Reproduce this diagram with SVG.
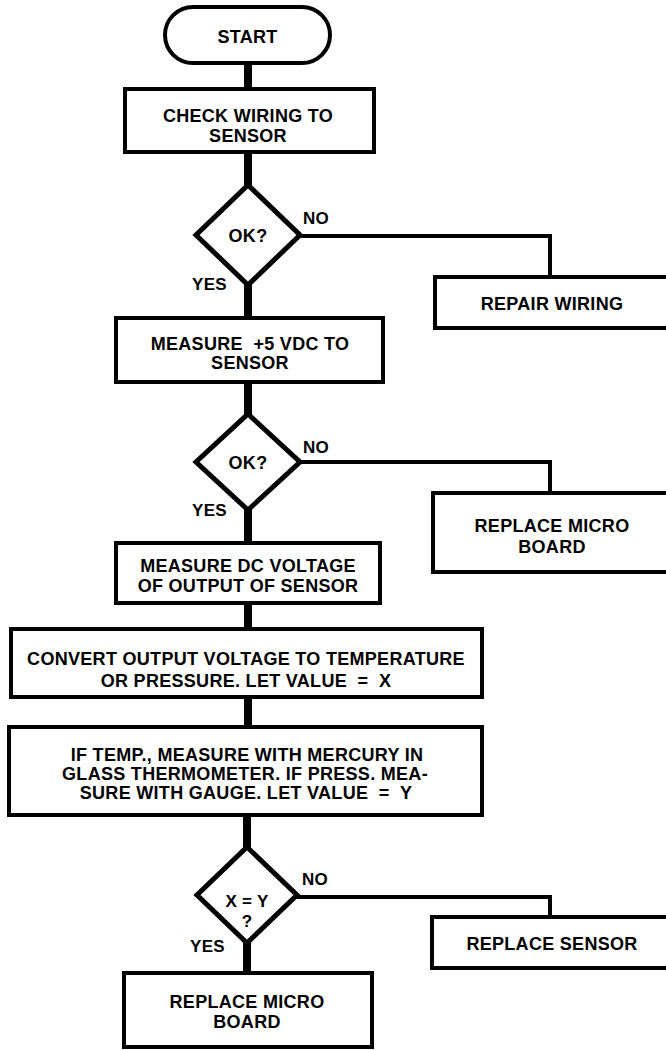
<svg xmlns="http://www.w3.org/2000/svg" width="666" height="1050" viewBox="0 0 666 1050">
<style>
  .box { fill: #fff; stroke: #000; stroke-width: 4; }
  .dia { fill: #fff; stroke: #000; stroke-width: 5; stroke-linejoin: miter; }
  .main { fill: none; stroke: #000; stroke-width: 8; }
  .branch { fill: none; stroke: #000; stroke-width: 4; stroke-linejoin: miter; }
  text { font-family: "Liberation Sans", Arial, sans-serif; font-weight: bold; font-size: 18px; letter-spacing: 0.3px; fill: #000; }
  .c { text-anchor: middle; }
  .lbl { font-size: 17px; }
  .e { text-anchor: end; }
</style>
<rect width="666" height="1050" fill="#fff"/>
<g id="connectors">
  <line class="main" x1="248" y1="62" x2="248" y2="90"/>
  <line class="main" x1="248" y1="151" x2="248" y2="186"/>
  <line class="main" x1="248" y1="284" x2="248" y2="319"/>
  <line class="main" x1="248" y1="381" x2="248" y2="415"/>
  <line class="main" x1="248" y1="509" x2="248" y2="544"/>
  <line class="main" x1="248" y1="602" x2="248" y2="630"/>
  <line class="main" x1="248" y1="696" x2="248" y2="728"/>
  <line class="main" x1="247" y1="814" x2="247" y2="848"/>
  <line class="main" x1="247" y1="942" x2="247" y2="974"/>
  <polyline class="branch" points="300,236 550,236 550,278"/>
  <polyline class="branch" points="300,462 550,462 550,494"/>
  <polyline class="branch" points="297,897 550,897 550,918"/>
  <text class="lbl" x="303" y="224">NO</text>
  <text class="lbl e" x="227" y="290">YES</text>
  <text class="lbl" x="303" y="453">NO</text>
  <text class="lbl e" x="227" y="516">YES</text>
  <text class="lbl" x="302" y="885">NO</text>
  <text class="lbl e" x="225" y="952">YES</text>
</g>
<g id="start">
  <rect class="box" x="165" y="7" width="165" height="56" rx="28"/>
  <text class="c" x="247.5" y="43">START</text>
</g>
<g id="check-wiring">
  <rect class="box" x="125" y="89" width="249" height="63"/>
  <text class="c" x="248" y="122">CHECK WIRING TO</text>
  <text class="c" x="248" y="142">SENSOR</text>
</g>
<g id="ok1">
  <polygon class="dia" points="248,185 300,235 248,285 196,235"/>
  <text class="c" x="248" y="242">OK?</text>
</g>
<g id="repair-wiring">
  <rect class="box" x="435" y="277" width="240" height="51"/>
  <text class="c" x="552" y="310">REPAIR WIRING</text>
</g>
<g id="measure-5v">
  <rect class="box" x="116" y="318" width="267" height="64"/>
  <text class="c" x="250" y="350" xml:space="preserve">MEASURE  +5 VDC TO</text>
  <text class="c" x="250" y="369">SENSOR</text>
</g>
<g id="ok2">
  <polygon class="dia" points="248,414 300,462 248,510 196,462"/>
  <text class="c" x="248" y="469">OK?</text>
</g>
<g id="replace-micro-1">
  <rect class="box" x="433" y="493" width="240" height="79"/>
  <text class="c" x="552" y="532">REPLACE MICRO</text>
  <text class="c" x="552" y="553">BOARD</text>
</g>
<g id="measure-dc">
  <rect class="box" x="116" y="543" width="264" height="60"/>
  <text class="c" x="248" y="572">MEASURE DC VOLTAGE</text>
  <text class="c" x="248" y="592">OF OUTPUT OF SENSOR</text>
</g>
<g id="convert">
  <rect class="box" x="11" y="629" width="471" height="68"/>
  <text class="c" x="246" y="665">CONVERT OUTPUT VOLTAGE TO TEMPERATURE</text>
  <text class="c" x="246" y="687" xml:space="preserve">OR PRESSURE. LET VALUE  =  X</text>
</g>
<g id="measure-y">
  <rect class="box" x="9" y="727" width="473" height="88"/>
  <text class="c" x="247" y="761">IF TEMP., MEASURE WITH MERCURY IN</text>
  <text class="c" x="245" y="780">GLASS THERMOMETER. IF PRESS. MEA-</text>
  <text class="c" x="246" y="799" xml:space="preserve">SURE WITH GAUGE. LET VALUE  =  Y</text>
</g>
<g id="xy">
  <polygon class="dia" points="247,847 297,895 247,943 197,895"/>
  <text class="c lbl" x="247" y="907">X = Y</text>
  <text class="c lbl" x="247" y="927">?</text>
</g>
<g id="replace-sensor">
  <rect class="box" x="432" y="917" width="240" height="51"/>
  <text class="c" x="552" y="950">REPLACE SENSOR</text>
</g>
<g id="replace-micro-2">
  <rect class="box" x="124" y="973" width="248" height="74"/>
  <text class="c" x="247" y="1008">REPLACE MICRO</text>
  <text class="c" x="247" y="1028">BOARD</text>
</g>
</svg>
